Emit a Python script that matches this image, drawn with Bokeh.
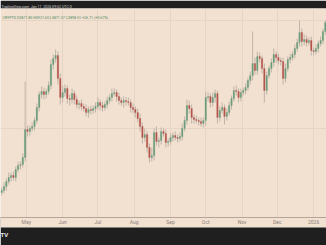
import datetime as dt
from bokeh.plotting import figure
from bokeh.models import FixedTicker, Grid, Label, Range1d, ColumnDataSource, Title
from bokeh.embed import file_html
from bokeh.resources import INLINE

start = dt.datetime(2025, 4, 10)
step_days = 2

closes = [
    2200, 2240, 2290, 2330, 2350, 2330, 2410, 2450, 2460, 2530,
    2810, 2790, 2820, 2840, 2900, 3030, 3160, 3190, 3160, 3190,
    3250, 3460, 3520, 3550, 3320, 3130, 3180, 3220, 3120, 3110,
    3170, 3110, 3060, 3070, 3040, 3020, 2980, 3010, 3000, 3020,
    3040, 3080, 3050, 3030, 3060, 3100, 3130, 3170, 3180, 3140,
    3100, 3080, 3100, 3090, 3080, 3030, 3010, 2980, 2920, 2840,
    2730, 2760, 2630, 2530, 2550, 2780, 2690, 2700, 2790, 2770,
    2680, 2690, 2730, 2750, 2730, 2720, 2740, 2820, 2900, 3050,
    3020, 2930, 2910, 2900, 2890, 2870, 2900, 3130, 3140, 3080,
    3130, 3170, 2930, 3000, 3030, 2940, 2980, 3050, 3120, 3200,
    3190, 3130, 3180, 3200, 3230, 3300, 3350, 3470, 3400, 3540,
    3520, 3420, 3200, 3350, 3420, 3480, 3560, 3530, 3500, 3490,
    3320, 3420, 3510, 3530, 3560, 3620, 3680, 3780, 3690, 3710,
    3680, 3700, 3600, 3590, 3620, 3670, 3700, 3790, 3880,
]
first_open = 2180

wick_up = [
    30, 40, 30, 50, 30, 40, 30, 40, 30, 40,
    480, 40, 30, 40, 30, 40, 30, 50, 40, 30,
    40, 50, 40, 60, 40, 50, 70, 40, 30, 40,
    50, 30, 40, 30, 40, 30, 40, 30, 40, 30,
    40, 50, 30, 40, 30, 40, 30, 50, 40, 30,
    40, 30, 40, 30, 40, 30, 40, 30, 40, 50,
    40, 60, 30, 40, 80, 40, 60, 30, 40, 30,
    40, 30, 40, 30, 40, 30, 40, 50, 40, 60,
    50, 40, 30, 40, 30, 40, 30, 60, 40, 30,
    50, 40, 30, 40, 50, 30, 40, 40, 30, 40,
    50, 30, 40, 30, 40, 30, 40, 320, 60, 50,
    40, 30, 50, 40, 30, 40, 60, 30, 40, 30,
    40, 50, 30, 40, 30, 40, 40, 120, 40, 50,
    40, 30, 40, 30, 40, 30, 40, 30, 20,
]
wick_dn = [
    30, 30, 40, 30, 40, 30, 40, 30, 40, 30,
    40, 50, 40, 30, 40, 30, 40, 40, 50, 40,
    30, 40, 50, 40, 60, 70, 50, 40, 50, 60,
    40, 50, 40, 50, 40, 30, 40, 50, 40, 30,
    40, 30, 50, 40, 30, 40, 30, 40, 30, 50,
    40, 30, 50, 40, 30, 50, 40, 50, 40, 50,
    60, 40, 50, 50, 40, 50, 40, 60, 40, 30,
    50, 40, 30, 40, 30, 40, 30, 40, 30, 40,
    50, 60, 40, 30, 40, 30, 40, 50, 40, 50,
    40, 50, 60, 40, 30, 80, 40, 30, 40, 30,
    40, 50, 40, 30, 40, 30, 40, 50, 40, 40,
    40, 50, 120, 40, 30, 40, 40, 50, 40, 40,
    60, 40, 30, 40, 30, 40, 30, 40, 50, 40,
    40, 30, 50, 40, 30, 40, 30, 40, 30,
]

tick_dates = ["2025-05-01", "2025-06-01", "2025-07-01", "2025-08-01", "2025-09-01",
              "2025-10-01", "2025-11-01", "2025-12-01", "2026-01-01"]
tick_labels = ["May", "Jun", "Jul", "Aug", "Sep", "Oct", "Nov", "Dec", "2026"]
price_grid = [2820, 3900]

header = "TradingView.com, Jan 11, 2026 09:52 UTC-0"
ohlc_text = "CRYPTO  O3871.80  H3921.60  L3871.37  C3898.51  +26.71 (+0.67%)"

BG = "#f2e1d1"
DARK = "#1f1f1f"
UP = "#6b9d7b"
DOWN = "#b5544c"
WICK = "#bfb3a8"

n = len(closes)
dates = [start + dt.timedelta(days=step_days * i) for i in range(n)]
opens = [first_open] + closes[:-1]
highs = [max(o, c) + w for o, c, w in zip(opens, closes, wick_up)]
lows = [min(o, c) - w for o, c, w in zip(opens, closes, wick_dn)]
colors = [UP if c >= o else DOWN for o, c in zip(opens, closes)]
src = ColumnDataSource(dict(x=dates, o=opens, c=closes, h=highs, l=lows, col=colors))

def ms(s):
    d = dt.datetime.strptime(s, "%Y-%m-%d")
    return (d - dt.datetime(1970, 1, 1)).total_seconds() * 1000

x0 = ms("2025-04-09")
x1 = ms("2026-01-12")

p = figure(width=326, height=245, x_axis_type="datetime", output_backend="svg",
           toolbar_location=None, min_border_left=0, min_border_right=0,
           min_border_top=8, min_border_bottom=28,
           x_range=Range1d(x0, x1), y_range=Range1d(1930, 4020),
           background_fill_color=BG, border_fill_color=DARK, outline_line_color=None)
p.yaxis.visible = False
p.ygrid.visible = False

p.xaxis.ticker = FixedTicker(ticks=[ms(d) for d in tick_dates])
p.xaxis.major_label_overrides = {ms(d): lab for d, lab in zip(tick_dates, tick_labels)}
p.xaxis.major_label_text_font_size = "5px"
p.xaxis.major_label_text_color = "#8c8078"
p.xaxis.major_label_text_font = "Roboto"
p.xaxis.major_tick_in = 0
p.xaxis.major_tick_out = 0
p.xaxis.minor_tick_in = 0
p.xaxis.minor_tick_out = 0
p.xaxis.major_label_standoff = 1
p.xaxis.axis_line_color = "#b3a699"
p.xaxis.background_fill_color = BG

p.xgrid.grid_line_color = "#e6d4c4"
p.xgrid.grid_line_width = 1
p.add_layout(Grid(dimension=1, ticker=FixedTicker(ticks=price_grid),
                  grid_line_color="#e6d4c4", grid_line_width=1))

p.segment(x0="x", y0="l", x1="x", y1="h", source=src, line_color=WICK, line_width=1)
p.vbar(x="x", top="o", bottom="c", width=1.2 * 86400000, source=src,
       fill_color="col", line_color="col", line_width=0.3)

p.add_layout(Label(x=2, y=200, x_units="screen", y_units="screen", text=ohlc_text,
                   text_font_size="3.6px", text_color="#4f8a62", text_font="Roboto",
                   text_baseline="middle"))

p.add_layout(Title(text=header, text_font_size="3.6px", text_color="#d0d0d0",
                   text_font="Roboto", text_font_style="normal", align="left",
                   offset=1, standoff=0), "above")
p.add_layout(Title(text="TV", text_font_size="6px", text_color="#e8e8e8",
                   text_font="Roboto", text_font_style="bold", align="left",
                   offset=0, standoff=2), "below")

open("out.html", "w").write(file_html(p, INLINE))
